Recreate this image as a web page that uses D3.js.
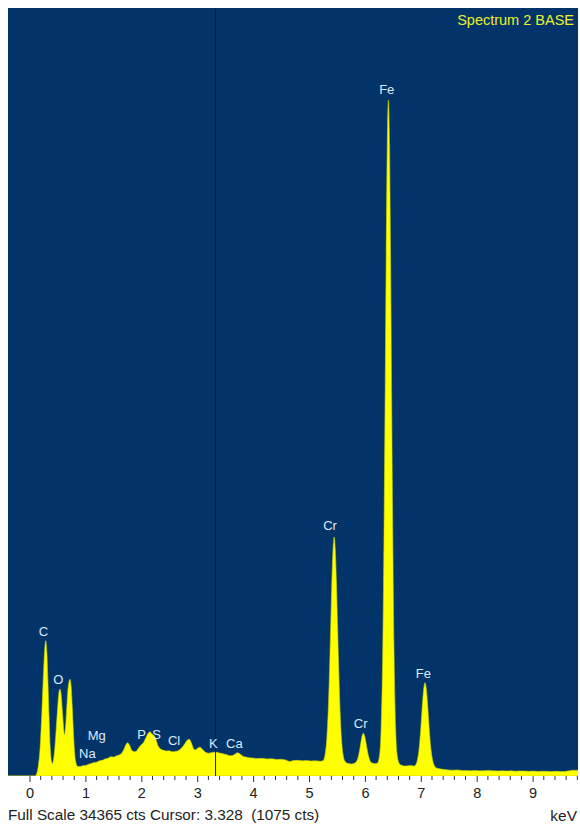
<!DOCTYPE html>
<html>
<head>
<meta charset="utf-8">
<script src="https://cdn.jsdelivr.net/npm/d3@7"></script>
<style>
  html, body { margin: 0; padding: 0; background: #ffffff; }
  svg { display: block; }
  text { font-family: "Liberation Sans", Arial, sans-serif; }
</style>
</head>
<body>
<svg id="chart" width="580" height="825"></svg>
<script>
// EDS spectrum: energy (keV) and counts per channel
const specKeV = [
  -0.385, 0.10, 0.13, 0.16, 0.19, 0.22, 0.25, 0.27, 0.29, 0.31, 0.33, 0.35, 0.37, 0.39, 0.41,
  0.43, 0.46, 0.49, 0.51, 0.53, 0.546, 0.565, 0.585, 0.605, 0.625, 0.645, 0.665, 0.685, 0.705,
  0.725, 0.745, 0.765, 0.785, 0.805, 0.83, 0.86, 0.90, 0.95, 1.00, 1.05, 1.10, 1.15, 1.20, 1.25,
  1.30, 1.35, 1.40, 1.45, 1.50, 1.55, 1.60, 1.64, 1.68, 1.72, 1.757, 1.79, 1.83, 1.87, 1.91,
  1.95, 2.00, 2.04, 2.08, 2.12, 2.156, 2.19, 2.22, 2.26, 2.30, 2.34, 2.40, 2.45, 2.50, 2.55,
  2.60, 2.66, 2.72, 2.78, 2.82, 2.86, 2.90, 2.94, 2.97, 3.00, 3.05, 3.10, 3.15, 3.20, 3.26,
  3.33, 3.40, 3.46, 3.52, 3.58, 3.63, 3.68, 3.72, 3.76, 3.81, 3.87, 3.93, 4.00, 4.08, 4.16,
  4.25, 4.33, 4.42, 4.50, 4.58, 4.66, 4.72, 4.80, 4.88, 4.96, 5.04, 5.12, 5.20, 5.25,
  5.29, 5.32, 5.35, 5.37, 5.39, 5.41, 5.43, 5.45, 5.47, 5.49, 5.51, 5.53, 5.55, 5.58, 5.61,
  5.65, 5.70, 5.76, 5.82, 5.86, 5.89, 5.92, 5.945, 5.97, 5.995, 6.02, 6.05, 6.08, 6.12, 6.17,
  6.22, 6.26, 6.29, 6.32, 6.34, 6.36, 6.38, 6.40, 6.42, 6.44, 6.46, 6.48, 6.50, 6.52, 6.55,
  6.58, 6.62, 6.67, 6.72, 6.77, 6.82, 6.875, 6.915, 6.945, 6.975, 6.995, 7.015, 7.035, 7.055,
  7.075, 7.095, 7.115, 7.135, 7.155, 7.175, 7.205, 7.235, 7.28, 7.34, 7.42, 7.50, 7.58, 7.66,
  7.74, 7.82, 7.90, 7.98, 8.06, 8.14, 8.22, 8.30, 8.38, 8.46, 8.54, 8.62, 8.70, 8.78, 8.86,
  8.94, 9.02, 9.10, 9.18, 9.26, 9.34, 9.42, 9.50, 9.58, 9.66, 9.72, 9.78, 9.812
];
const specCounts = [
  0, 0, 120, 500, 1300, 2800, 4600, 5600, 6055, 5550, 4200, 2600, 1300, 700, 560,
  750, 1500, 2600, 3300, 3800, 3893, 3650, 3000, 2300, 1850, 2200, 3000, 3800, 4200,
  4327, 4000, 3100, 2000, 1100, 600, 430, 420, 460, 470, 520, 560, 600, 620, 680,
  700, 760, 790, 860, 850, 900, 940, 1000, 1150, 1380, 1490, 1380, 1150, 1090, 1110,
  1250, 1400, 1500, 1700, 1900, 1983, 1880, 1835, 1650, 1350, 1220, 1150, 1120, 1130, 1090,
  1100, 1130, 1250, 1450, 1600, 1642, 1450, 1200, 1170, 1230, 1290, 1180, 1060, 1020, 1050,
  1075, 1030, 1000, 960, 910, 920, 990, 1042, 1000, 900, 850, 820, 800, 780, 790,
  760, 770, 740, 745, 720, 650, 690, 700, 680, 690, 670, 680, 660, 680,
  1000, 1750, 3350, 5000, 6900, 8800, 10150, 10695, 10120, 8740, 6870, 4950, 3310, 1700, 940,
  640, 560, 540, 580, 700, 960, 1380, 1740, 1911, 1790, 1480, 1060, 760, 590, 560,
  570, 900, 2150, 5800, 10400, 16500, 23100, 28250, 30250, 28250, 23050, 16450, 10350, 5780, 2120,
  870, 540, 470, 447, 460, 470, 445, 530, 790, 1360, 1970, 2700, 3430, 3970,
  4175, 3970, 3430, 2700, 1970, 1360, 790, 500, 360, 320, 290, 270, 260, 270,
  245, 250, 235, 245, 230, 240, 250, 230, 225, 240, 225, 230, 215, 225, 220,
  210, 220, 205, 215, 210, 200, 210, 200, 205, 230, 260, 250, 270
];

// Element line labels
const lineNames  = ["C", "O", "Na", "Mg", "P", "S", "Cl", "K", "Ca", "Cr", "Cr", "Fe", "Fe"];
const lineKeV    = [0.247, 0.515, 1.034, 1.202, 2.007, 2.275, 2.585, 3.288, 3.664, 5.376, 5.925, 6.39, 7.045];
const lineCounts = [6458, 4296, 1015, 1805, 1835, 1835, 1580, 1462, 1462, 11206, 2327, 30698, 4595];

// Axis settings
const keVDomain = [-0.385, 9.812];
const fullScale = 34365;
const majorTicks = [0, 1, 2, 3, 4, 5, 6, 7, 8, 9];
const cursorKeV = 3.328;
const cursorCounts = 1075;
const spectrumName = "Spectrum 2 BASE";

const svg = d3.select("#chart");
const plot = { left: 8, right: 578, top: 8, bottom: 776 };

const x = d3.scaleLinear().domain(keVDomain).range([plot.left, plot.right]);
const y = d3.scaleLinear().domain([0, fullScale]).range([plot.bottom, plot.top]);

svg.append("defs").append("clipPath").attr("id", "plotClip")
  .append("rect")
  .attr("x", plot.left).attr("y", plot.top)
  .attr("width", plot.right - plot.left).attr("height", plot.bottom - plot.top);

// background
svg.append("rect")
  .attr("x", plot.left).attr("y", plot.top)
  .attr("width", plot.right - plot.left).attr("height", plot.bottom - plot.top)
  .attr("fill", "#02346a");

const spec = specKeV.map((k, i) => ({ k, c: specCounts[i] }));

const area = d3.area()
  .x(d => x(d.k))
  .y0(y(0))
  .y1(d => y(Math.max(0, d.c)))
  .curve(d3.curveMonotoneX);

svg.append("path")
  .datum(spec)
  .attr("clip-path", "url(#plotClip)")
  .attr("d", area)
  .attr("fill", "#ffff00")
  .attr("stroke", "#c8d000")
  .attr("stroke-width", 0.6);

// cursor
svg.append("line")
  .attr("x1", x(cursorKeV)).attr("x2", x(cursorKeV))
  .attr("y1", plot.top).attr("y2", plot.bottom)
  .attr("stroke", "#1a1a1a").attr("stroke-width", 1);

// element labels
svg.append("g").selectAll("text")
  .data(lineNames)
  .join("text")
  .attr("x", (d, i) => x(lineKeV[i]))
  .attr("y", (d, i) => y(lineCounts[i]))
  .attr("text-anchor", "middle")
  .attr("dominant-baseline", "central")
  .attr("font-size", 13)
  .attr("fill", "#dcecf8")
  .text(d => d);

// spectrum title
svg.append("text")
  .attr("x", 574).attr("y", 20)
  .attr("text-anchor", "end")
  .attr("dominant-baseline", "central")
  .attr("font-size", 14.5)
  .attr("fill", "#eef02a")
  .text(spectrumName);

// energy axis
const minorTicks = d3.range(0, 9.81, 0.2).filter(v => Math.abs(v - Math.round(v)) > 1e-6);
const axis = d3.axisBottom(x)
  .tickValues(majorTicks)
  .tickFormat(d3.format("d"))
  .tickSize(6)
  .tickPadding(6);
const gAxis = svg.append("g")
  .attr("transform", `translate(0,${plot.bottom})`)
  .call(axis);
gAxis.select(".domain").remove();
gAxis.selectAll(".tick line").attr("stroke", "#333");
gAxis.selectAll(".tick text")
  .attr("font-size", 14.5)
  .attr("fill", "#222")
  .attr("font-family", "\"Liberation Sans\", Arial, sans-serif");

svg.append("g").selectAll("line")
  .data(minorTicks)
  .join("line")
  .attr("x1", d => x(d)).attr("x2", d => x(d))
  .attr("y1", plot.bottom).attr("y2", plot.bottom + 4)
  .attr("stroke", "#333");

// status line
svg.append("text")
  .attr("x", 8).attr("y", 814)
  .attr("dominant-baseline", "central")
  .attr("font-size", 15.3)
  .attr("fill", "#222")
  .attr("xml:space", "preserve")
  .text(`Full Scale ${fullScale} cts Cursor: ${cursorKeV.toFixed(3)}  (${cursorCounts} cts)`);

svg.append("text")
  .attr("x", 577).attr("y", 815)
  .attr("text-anchor", "end")
  .attr("dominant-baseline", "central")
  .attr("font-size", 15.5)
  .attr("fill", "#222")
  .text("keV");
</script>
</body>
</html>
